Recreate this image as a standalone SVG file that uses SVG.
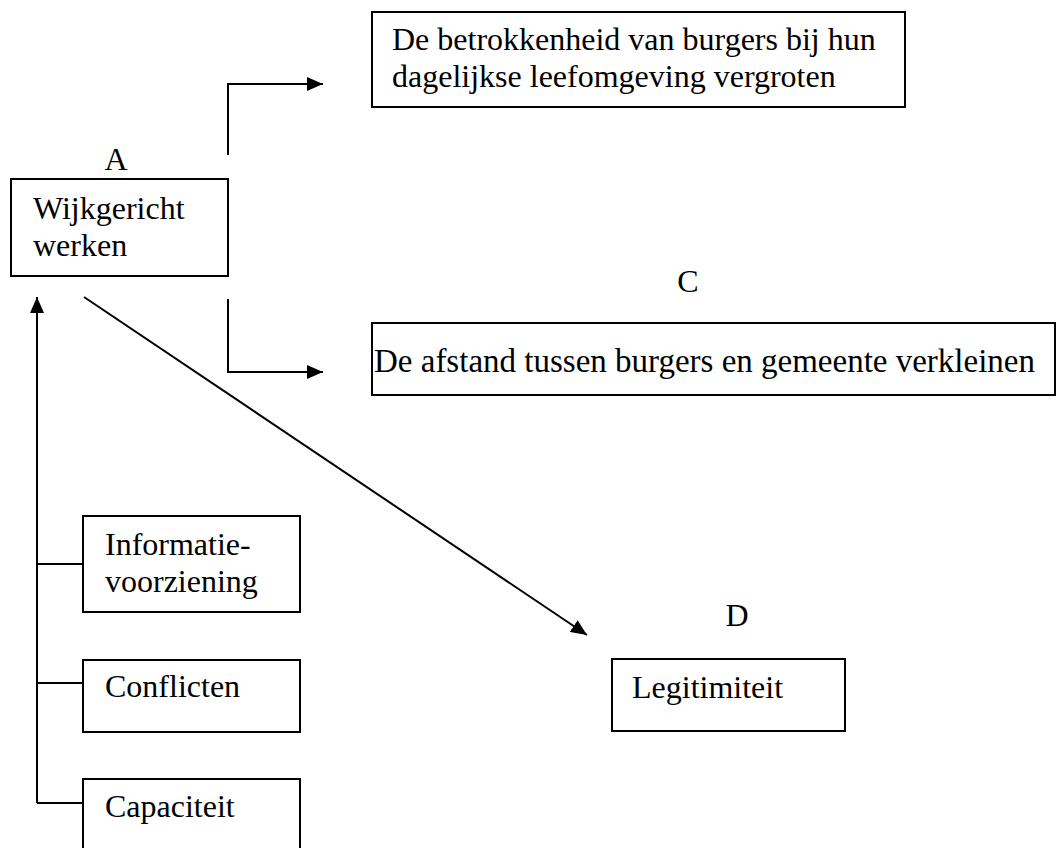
<svg xmlns="http://www.w3.org/2000/svg" width="1057" height="848" viewBox="0 0 1057 848">
<style>
.box{fill:#fff;stroke:#000;stroke-width:2}
.t{font-family:"Liberation Serif","Times New Roman",serif;font-size:32px;fill:#000}
.c{fill:none;stroke:#000;stroke-width:2}
</style>
<defs>
<marker id="ah" viewBox="0 0 16 14" refX="16" refY="7" markerWidth="16" markerHeight="14" markerUnits="userSpaceOnUse" orient="auto">
<path d="M0,0 L16,7 L0,14 Z" fill="#000"/>
</marker>
</defs>
<rect width="1057" height="848" fill="#fff"/>
<g id="connectors">
<path class="c" d="M228,155 V84 H323" marker-end="url(#ah)"/>
<path class="c" d="M228,299 V372 H323" marker-end="url(#ah)"/>
<path class="c" d="M84,297 L587,635" marker-end="url(#ah)"/>
<path class="c" d="M37,803 V297" marker-end="url(#ah)"/>
<path class="c" d="M37,564 H83 M37,683 H83 M37,803 H83"/>
</g>
<g id="labelA"><text class="t" x="116" y="170" text-anchor="middle">A</text></g>
<g id="labelC"><text class="t" x="688" y="292" text-anchor="middle">C</text></g>
<g id="labelD"><text class="t" x="737" y="626" text-anchor="middle">D</text></g>
<g id="nodeA">
<rect class="box" x="11" y="179" width="217" height="97"/>
<text class="t" x="33" y="219">Wijkgericht</text>
<text class="t" x="33" y="256">werken</text>
</g>
<g id="nodeB">
<rect class="box" x="372" y="12" width="533" height="95"/>
<text class="t" x="392" y="50">De betrokkenheid van burgers bij hun</text>
<text class="t" x="392" y="87">dagelijkse leefomgeving vergroten</text>
</g>
<g id="nodeC">
<rect class="box" x="372" y="323" width="683" height="72"/>
<text class="t" x="374" y="372" style="font-size:33px">De afstand tussen burgers en gemeente verkleinen</text>
</g>
<g id="nodeD">
<rect class="box" x="612" y="659" width="233" height="72"/>
<text class="t" x="632" y="698">Legitimiteit</text>
</g>
<g id="nodeInfo">
<rect class="box" x="83" y="516" width="217" height="96"/>
<text class="t" x="105" y="555">Informatie-</text>
<text class="t" x="105" y="592">voorziening</text>
</g>
<g id="nodeConflicten">
<rect class="box" x="83" y="660" width="217" height="72"/>
<text class="t" x="105" y="697">Conflicten</text>
</g>
<g id="nodeCapaciteit">
<rect class="box" x="83" y="779" width="217" height="72"/>
<text class="t" x="105" y="817">Capaciteit</text>
</g>
</svg>
